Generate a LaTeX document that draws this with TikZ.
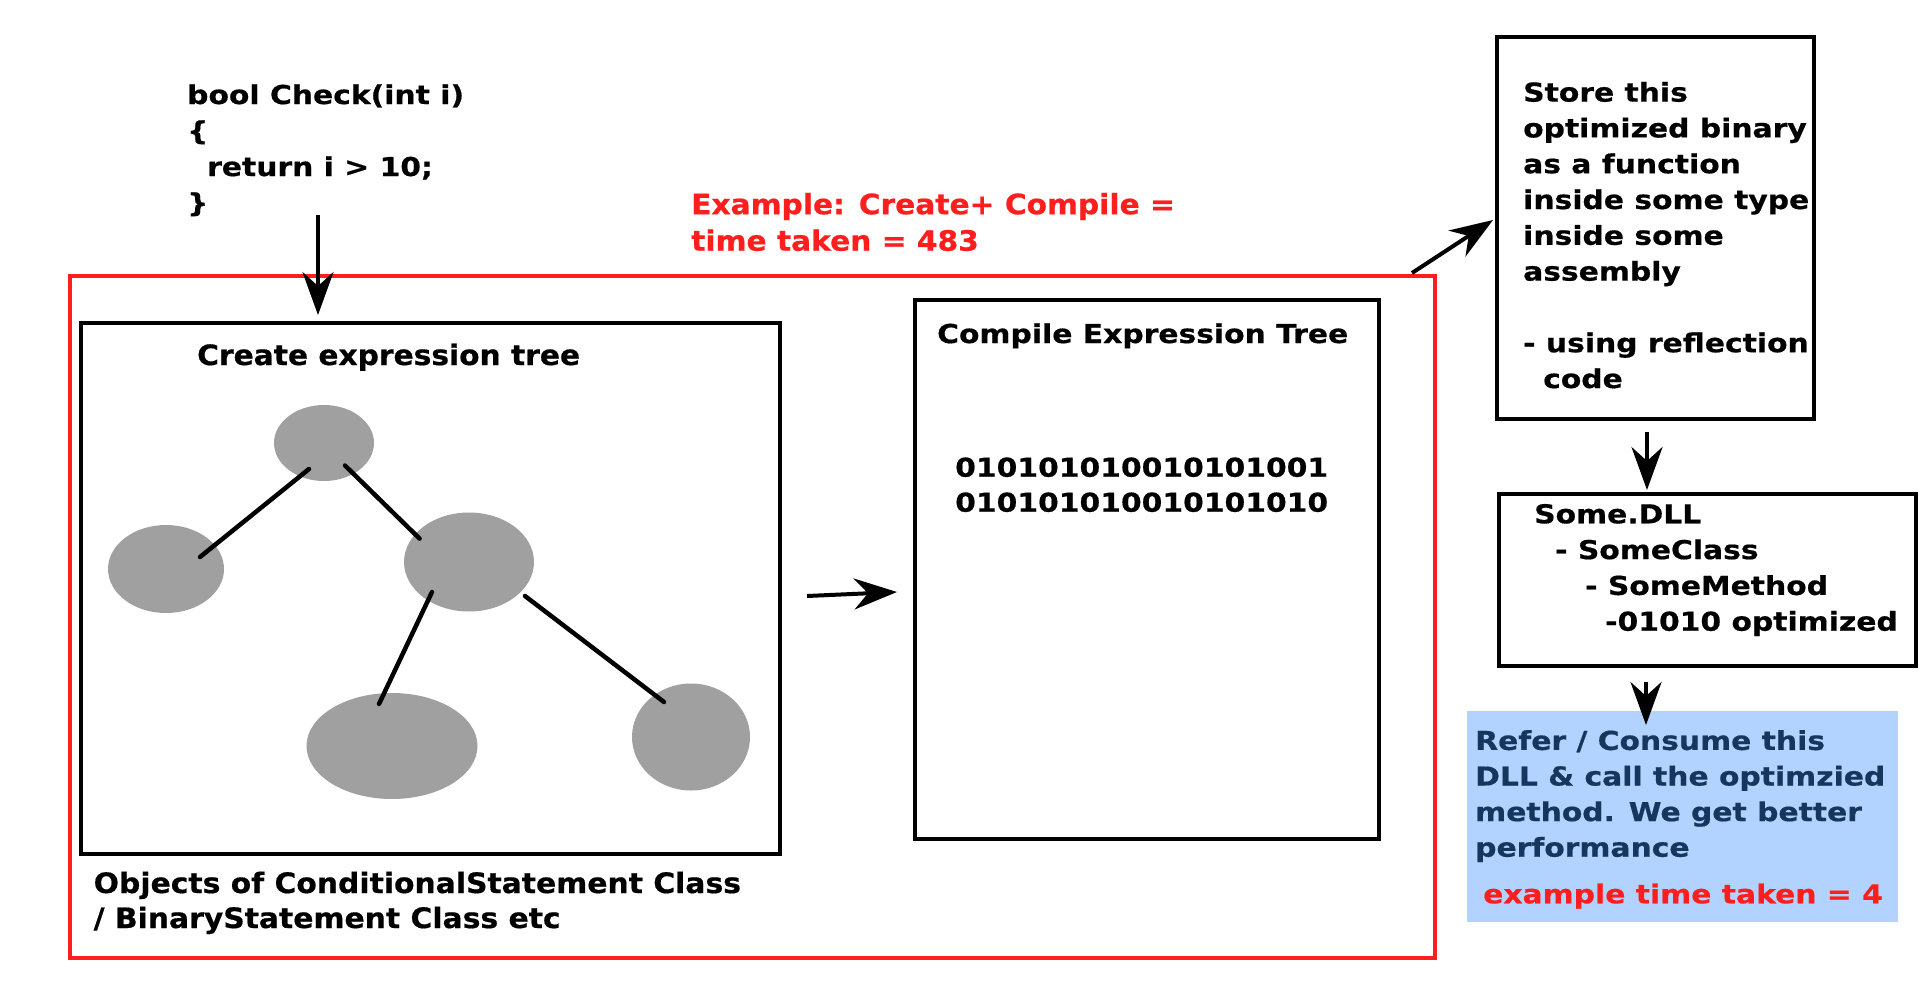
\documentclass[tikz,border=0pt]{standalone}
\usepackage{fontspec}
\usetikzlibrary{arrows.meta,shapes.geometric}
\newfontfamily\fA{DejaVu Sans}[FakeStretch=1.145,FakeBold=0.6]
\newfontfamily\fB{DejaVu Sans}[FakeStretch=1.06,FakeBold=0.6]
\definecolor{redc}{RGB}{255,30,30}
\definecolor{nodegray}{RGB}{160,160,160}
\definecolor{bluefill}{RGB}{178,210,255}
\definecolor{navy}{RGB}{23,54,93}
\tikzset{
  txtA/.style={font=\fontsize{26}{35.8}\fA\bfseries, align=left, inner sep=0, anchor=base west},
  txtB/.style={font=\fontsize{28}{34.5}\fB\bfseries, align=left, inner sep=0, anchor=base west},
  box/.style={draw, line width=4pt, inner sep=0, outer sep=0, anchor=north west},
  blob/.style={ellipse, fill=nodegray, inner sep=0, outer sep=0},
  arr/.style={-{Stealth[length=43pt,width=31pt,inset=14pt]}, line width=4pt},
  edge/.style={line width=4.5pt, line cap=round}
}
\begin{document}
\begin{tikzpicture}[x=1pt,y=-1pt]
\useasboundingbox (0,0) rectangle (1920,991);
% boxes
\node[box, draw=redc, minimum width=1365pt, minimum height=682pt] (redbox) at (70,276) {};
\node[box, minimum width=699pt, minimum height=531pt] (tree) at (81,323) {};
\node[box, minimum width=464pt, minimum height=539pt] (compile) at (915,300) {};
\node[box, minimum width=317pt, minimum height=382pt] (store) at (1497,37) {};
\node[box, minimum width=417pt, minimum height=172pt] (dll) at (1499,494) {};
% tree blobs
\node[blob, minimum width=100pt, minimum height=76pt] (root) at (324,443) {};
\node[blob, minimum width=116pt, minimum height=88pt] (left) at (166,569) {};
\node[blob, minimum width=130pt, minimum height=99pt] (mid) at (469,562) {};
\node[blob, minimum width=171pt, minimum height=106pt] (bl) at (392,746) {};
\node[blob, minimum width=118pt, minimum height=107pt] (br) at (691,737) {};
\draw[edge] ([shift={(-15,26)}]root.center) -- ([shift={(34,-12)}]left.center);
\draw[edge] ([shift={(21,22.5)}]root.center) -- ([shift={(-49.4,-23.4)}]mid.center);
\draw[edge] ([shift={(-37,30)}]mid.center) -- ([shift={(-13,-42)}]bl.center);
\draw[edge] ([shift={(56,34)}]mid.center) -- ([shift={(-27,-35)}]br.center);
% texts (anchor = baseline of the last line)
\node[txtA, font=\fontsize{26}{36}\fA\bfseries] (code) at (187,212) {bool Check(int i)\\\{\\\hspace*{20pt}return i > 10;\\\}};
\node[txtB, text=redc, font=\fontsize{28}{36.5}\fB\bfseries] (example) at (691,250.7) {Example: Create+ Compile =\\time taken = 483};
\node[txtB] (treetitle) at (197,365) {Create expression tree};
\node[txtB, font=\fontsize{28.1}{35}\fB\bfseries] (objects) at (93.5,928) {Objects of ConditionalStatement Class\\/ BinaryStatement Class etc};
\node[txtA] (compiletitle) at (937,343) {Compile Expression Tree};
\node[txtA, font=\fontsize{26}{35}\fA\bfseries] (binary) at (955,511.7) {010101010010101001\\010101010010101010};
\node[txtA] (storetext) at (1523,388) {Store this\\optimized binary\\as a function\\inside some type\\inside some\\assembly\\\mbox{}\\- using reflection\\\hspace*{20pt}code};
\node[txtA] (dlltext) at (1534,630.7) {Some.DLL\\\hspace*{21pt}- SomeClass\\\hspace*{51pt}- SomeMethod\\\hspace*{71pt}-01010 optimized};
\node[fill=bluefill, inner sep=0, outer sep=0, anchor=north west, minimum width=431pt, minimum height=211pt] (blue) at (1467,711) {};
\node[txtA, text=navy, font=\fontsize{26}{35.6}\fA\bfseries] (refer) at (1475,856.7) {Refer / Consume this\\DLL \& call the optimzied\\method. We get better\\performance};
\node[txtA, text=redc] (fast) at (1483,903.3) {example time taken = 4};
% arrows
\coordinate (a1s) at (318,215); \coordinate (a1e) at (318,315);
\coordinate (a2s) at (807,596); \coordinate (a2e) at (897,592);
\coordinate (a3s) at (1412,273); \coordinate (a3e) at (1493,220);
\coordinate (a4s) at (1647,432); \coordinate (a4e) at (1647,490);
\coordinate (a5s) at (1646,682); \coordinate (a5e) at (1646,725);
\draw[arr] (a1s) -- (a1e);
\draw[arr] (a2s) -- (a2e);
\draw[arr] (a3s) -- (a3e);
\draw[arr] (a4s) -- (a4e);
\draw[arr] (a5s) -- (a5e);
\end{tikzpicture}
\end{document}
